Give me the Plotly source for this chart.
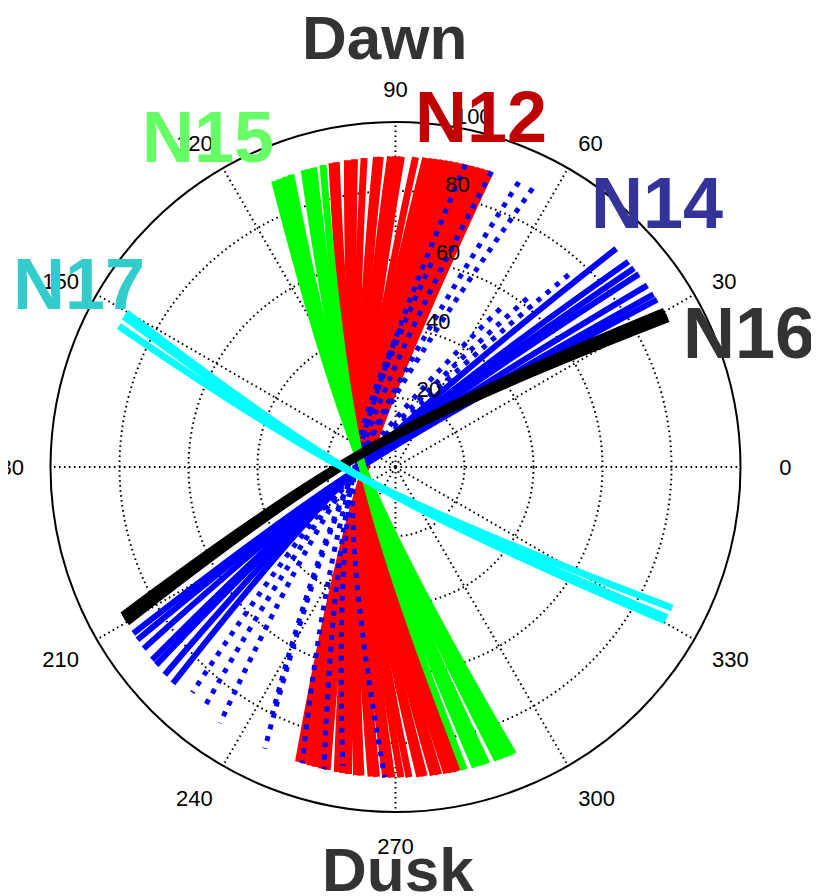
import plotly.graph_objects as go

# ---------------- data ----------------
R_EDGE = 90.0  # radius at which every pass starts / ends

# N12 (red) passes: start angle (dawn side) and end angle (dusk side), deg
N12_START = [72.2, 73.2, 74.2, 75.2, 76.2, 77.2, 78.2, 79.2, 80.2, 81.2, 82.2, 83.2,
             84.4, 86.3, 88.9, 90.0, 90.9, 92.8, 93.5, 95.8, 97.6, 98.9, 101.0, 101.8]
N12_END = [251.8, 252.7, 254.0, 255.0, 256.2, 257.3, 259.2, 260.2, 261.3, 262.8, 263.6, 265.5,
           266.5, 268.2, 269.3, 271.0, 272.5, 274.5, 275.3, 277.0, 278.0, 279.5, 280.5, 281.5]
N12_MID = [9.4, 191.0]          # r, theta where the passes cross

# N15 (green)
N15_START = [103.5, 105.3, 106.4, 107.1, 109.7, 110.8, 111.9, 112.9]
N15_END = [282.8, 284.9, 286.1, 287.1, 289.2, 290.4, 291.6, 292.3]
N15_MID = [9.7, 177.0]

# N14 (blue) dense passes
N14_SOLID_START = [32.6, 33.8, 35.8, 38.4, 39.8, 41.4, 44.7]
N14_SOLID_END = [212.4, 213.8, 215.8, 218.4, 219.6, 222.0, 224.2]
# N14 (blue) sparse passes
N14_DOT_START = [48.0, 52.0, 56.5, 63.8, 66.6, 72.0, 77.0, 80.0, 88.0]
N14_DOT_START_R = [75, 62, 55, 90, 90, 90, 90, 60, 40]
N14_DOT_END = [228.0, 231.6, 235.6, 243.5, 245.1, 252.5, 256.7, 260.0, 268.0]
N14_DOT_END_R = [88, 90, 90, 80, 90, 90, 90, 88, 90]
N14_MID = [12.0, 186.0]

# N16 (black)
N16_START = [28.7, 29.3, 29.9]
N16_END = [208.7, 209.3, 209.9]
N16_MID = [9.0, 143.0]

# N17 (cyan)
N17_START = [150.2, 151.0, 153.0]
N17_END = [330.3, 331.0, 333.0]
N17_MID = [10.4, 196.7]

ANGLE_TICKS = list(range(0, 360, 30))
ANGLE_TEXT = [str(a) for a in ANGLE_TICKS]
RADIAL_TICKS = [20, 40, 60, 80, 100]
RADIAL_TEXT = [str(v) for v in RADIAL_TICKS]

LABELS = ["Dawn", "Dusk", "N12", "N15", "N14", "N17", "N16"]

# ---------------- figure ----------------
def passes(starts, ends, mid, r0s=None, r1s=None):
    rr, tt = [], []
    for i, (a, b) in enumerate(zip(starts, ends)):
        r0 = r0s[i] if r0s else R_EDGE
        r1 = r1s[i] if r1s else R_EDGE
        rr += [r0, mid[0], r1, None]
        tt += [a, mid[1], b, None]
    return rr, tt


fig = go.Figure()


def add(rr, tt, color, width, dash="solid"):
    fig.add_trace(go.Scatterpolar(
        r=rr, theta=tt, mode="lines",
        line=dict(color=color, width=width, shape="spline", dash=dash),
        connectgaps=False, hoverinfo="skip", showlegend=False))


add(*passes(N12_START, N12_END, N12_MID), "#ff0000", 7)
add(*passes(N14_SOLID_START, N14_SOLID_END, N14_MID), "#0000ff", 6)
add(*passes(N14_DOT_START, N14_DOT_END, N14_MID, N14_DOT_START_R, N14_DOT_END_R),
    "#0000ff", 5, "5px,7px")
add(*passes(N15_START, N15_END, N15_MID), "#00ff00", 7)
add(*passes(N16_START, N16_END, N16_MID), "#000000", 9)
add(*passes(N17_START, N17_END, N17_MID), "#00ffff", 7)

# page has an 8px body margin, so the figure is 8px smaller than the window
OFF = 8
W, H = 819 - OFF, 896 - OFF
tick_font = dict(family="Liberation Sans, Arial, sans-serif", size=22, color="black")
grid_dash = "1.6px,3.4px"

# radial labels sit just above their ring (blank second line lifts them)
radial_text = [t + "<br>&nbsp;" for t in RADIAL_TEXT]
# the 0 / 180 labels sit a little further out than the others
angle_text = list(ANGLE_TEXT)
angle_text[0] = "&nbsp;&nbsp;&nbsp;" + angle_text[0]
angle_text[6] = angle_text[6] + "&nbsp;"

cx, cy, R = 395.5 - OFF, 467.0 - OFF, 345.0
fig.update_layout(
    width=W, height=H,
    margin=dict(l=0, r=0, t=0, b=0),
    paper_bgcolor="white",
    showlegend=False,
    polar=dict(
        domain=dict(x=[(cx - R) / W, (cx + R) / W], y=[1 - (cy + R) / H, 1 - (cy - R) / H]),
        bgcolor="white",
        radialaxis=dict(
            range=[0, 100], tickvals=RADIAL_TICKS, ticktext=radial_text,
            angle=82, side="clockwise", tickangle=82,
            showline=False, ticks="", tickfont=tick_font,
            gridcolor="black", gridwidth=1.6, griddash=grid_dash,
        ),
        angularaxis=dict(
            tickvals=ANGLE_TICKS, ticktext=angle_text,
            direction="counterclockwise", rotation=0,
            showline=True, linecolor="black", linewidth=2,
            gridcolor="black", gridwidth=1.6, griddash=grid_dash,
            ticks="outside", ticklen=15, tickcolor="rgba(0,0,0,0)",
            tickfont=tick_font,
        ),
    ),
)

big = "Liberation Sans, Arial, sans-serif"
ann = [
    (LABELS[0], 384.5, 37.5, "#333333", 62),
    (LABELS[1], 397.5, 869.0, "#333333", 62),
    (LABELS[2], 480.5, 116.5, "#c00000", 72),
    (LABELS[3], 208.0, 137.0, "#66ff66", 72),
    (LABELS[4], 657.0, 202.5, "#333399", 72),
    (LABELS[5], 79.0, 283.5, "#33cccc", 72),
    (LABELS[6], 749.0, 332.5, "#333333", 72),
]
for text, x, y, col, size in ann:
    fig.add_annotation(
        text="<b>%s</b>" % text, x=(x - OFF) / W, y=1 - (y - OFF) / H,
        xref="paper", yref="paper",
        xanchor="center", yanchor="middle", showarrow=False,
        font=dict(family=big, size=size, color=col))

fig.write_html("out.html")
